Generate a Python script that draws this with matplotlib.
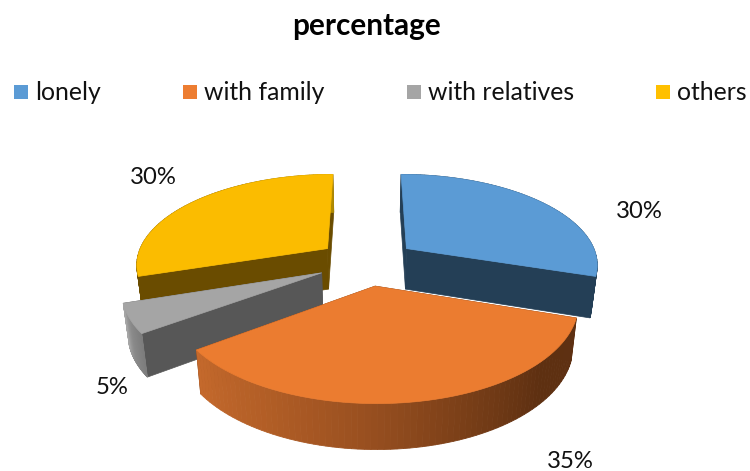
import numpy as np
import matplotlib
matplotlib.use('Agg')
import matplotlib.pyplot as plt
from matplotlib.patches import Polygon, Rectangle

title = 'percentage'
labels = ['lonely', 'with family', 'with relatives', 'others']
values = [30, 35, 5, 30]
pct_labels = ['30%', '35%', '5%', '30%']

top_colors = ['#5B9BD5', '#EB7C30', '#A5A5A5', '#FBBC00']
face_colors = ['#243F56', '#5E3012', '#575757', '#6A4C00']
legend_colors = ['#5B9BD5', '#ED7D31', '#A5A5A5', '#FFC000']
# wall shading, from left side of the wall to right side
wall_stops = [
    ['#243F56', '#243F56'],
    ['#C4692C', '#B25E26', '#9A5020', '#7A3F18', '#5E3011', '#5E3012'],
    ['#A6A6A6', '#8A8A8A', '#7C7C7C'],
    ['#6A4C00', '#6A4C00', '#6A4C00', '#B08A00'],
]

legend_x = [14, 183, 407, 656]
label_pos = [(639, 212), (570, 461), (112, 387), (153, 178)]
draw_order = [3, 0, 2, 1]

plt.rcParams['font.family'] = ['Lato', 'DejaVu Sans']

cx, cy = 367, 262
a, b, k = 192, 90, 0.16
explode = 0.26
height = 41
shrink_x, shrink_y = 0.975, 1.035


def project(x, y, low=False):
    d = 1 + k * y
    px = a * x / d
    py = -b * y / d
    if low:
        return cx + px * shrink_x, cy + py * shrink_y + height
    return cx + px, cy + py


def hex2rgb(c):
    return np.array(matplotlib.colors.to_rgb(c))


fig = plt.figure(figsize=(7.5, 4.71), dpi=100)
ax = fig.add_axes([0, 0, 1, 1])
ax.set_xlim(0, 750)
ax.set_ylim(471, 0)
ax.axis('off')

edges = np.cumsum([0] + values) / sum(values) * 2 * np.pi

for i in draw_order:
    start, end = edges[i], edges[i + 1]
    mid = (start + end) / 2
    ox, oy = explode * np.sin(mid), explode * np.cos(mid)
    th = np.linspace(start, end, 80)
    xs, ys = ox + np.sin(th), oy + np.cos(th)

    # radial faces
    for e in [start, end]:
        x1, y1 = ox + np.sin(e), oy + np.cos(e)
        pts = [project(ox, oy), project(x1, y1), project(x1, y1, True), project(ox, oy, True)]
        ax.add_patch(Polygon(pts, closed=True, facecolor=face_colors[i], edgecolor=face_colors[i], lw=0.5))

    # outer wall
    stops = wall_stops[i]
    rgb = np.array([hex2rgb(c) for c in stops])
    pos = np.linspace(0, 1, len(stops))
    for j in range(len(th) - 1):
        # angles run clockwise, the wall runs right to left in front
        t = 1 - j / (len(th) - 2)
        if i == 3:
            t = 1 - t  # back of the pie, wall runs left to right
        col = [np.interp(t, pos, rgb[:, c]) for c in range(3)]
        pts = [project(xs[j], ys[j]), project(xs[j + 1], ys[j + 1]),
               project(xs[j + 1], ys[j + 1], True), project(xs[j], ys[j], True)]
        ax.add_patch(Polygon(pts, closed=True, facecolor=col, edgecolor=col, lw=0.6))

    # top
    pts = [project(ox, oy)] + [project(x, y) for x, y in zip(xs, ys)]
    ax.add_patch(Polygon(pts, closed=True, facecolor=top_colors[i], edgecolor=top_colors[i], lw=0.5))

for (x, y), s in zip(label_pos, pct_labels):
    ax.text(x, y, s, fontsize=17.2, ha='center', va='center', color='#111111')

ax.text(366.5, 26, title, fontsize=21.4, fontweight='bold', ha='center', va='center', color='black')

for x, s, c in zip(legend_x, labels, legend_colors):
    ax.add_patch(Rectangle((x, 85), 14, 14, facecolor=c, edgecolor='none'))
    ax.text(x + 21, 92, s, fontsize=17.8, ha='left', va='center', color='#111111')

fig.savefig('out.png', dpi=100)
